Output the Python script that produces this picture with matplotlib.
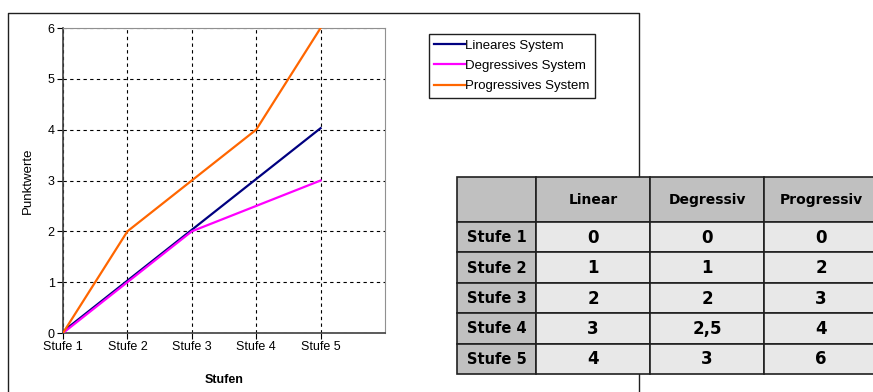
import numpy as np
import matplotlib.pyplot as plt
import matplotlib.transforms as mtransforms
from matplotlib.patches import Rectangle
from matplotlib.lines import Line2D

plt.rcParams['font.family'] = ['Liberation Sans', 'DejaVu Sans']

# ----- Data ----- #
stufen = ['Stufe 1', 'Stufe 2', 'Stufe 3', 'Stufe 4', 'Stufe 5']
linear = [0, 1, 2, 3, 4]
degressiv = [0, 1, 2, 2.5, 3]
progressiv = [0, 2, 3, 4, 6]
series_names = ['Lineares System', 'Degressives System', 'Progressives System']
table_cols = ['Linear', 'Degressiv', 'Progressiv']
colors = ['#000080', '#ff00ff', '#ff6600']

W, H = 873, 392
fig = plt.figure(figsize=(W / 100, H / 100), dpi=100)


def px_box(x0, y0, x1, y1):  # pixel box (top-left origin) -> figure rect
    return [x0 / W, 1 - y1 / H, (x1 - x0) / W, (y1 - y0) / H]


# ----- Outer chart frame ----- #
fig.add_artist(Line2D([8 / W, 8 / W, 639 / W, 639 / W], [-0.05, 1 - 13 / H, 1 - 13 / H, -0.05],
                      transform=fig.transFigure, color='#202020', lw=1))

# ----- Line chart ----- #
ax = fig.add_axes(px_box(63, 28, 385, 333))
x = np.arange(len(stufen))
# nudge the linear line up a touch so it stays visible next to the degressive one
shifts = [1.5, 0, 0]
for vals, name, col, dy in zip([linear, degressiv, progressiv], series_names, colors, shifts):
    tr = ax.transData + mtransforms.ScaledTranslation(0, dy / 100, fig.dpi_scale_trans)
    ax.plot(x, vals, color=col, lw=1.6, label=name, solid_joinstyle='miter', zorder=3,
            transform=tr)

ax.set_xlim(0, 5)
ax.set_ylim(0, 6)
ax.set_xticks(x, stufen)
ax.set_yticks(range(7))
ax.grid(True, color='black', linestyle=(0, (3, 3)), lw=0.8)
ax.tick_params(axis='both', labelsize=9, direction='out', length=4, width=0.8, pad=2, colors='black')
for side in ['top', 'right']:
    ax.spines[side].set_color('#909090')
    ax.spines[side].set_linewidth(0.8)
for side in ['left', 'bottom']:
    ax.spines[side].set_color('#404040')
    ax.spines[side].set_linewidth(1.2)

ax.set_xlabel('Stufen', fontsize=9, fontweight='bold')
ax.xaxis.set_label_coords(0.5, -0.135)
ax.set_ylabel('Punktwerte', fontsize=9.5)
ax.yaxis.set_label_coords(-0.09, 0.5)

leg = fig.legend(loc='upper left', bbox_to_anchor=(429 / W, 1 - 34 / H), fontsize=9.5,
                 frameon=True, fancybox=False, edgecolor='#202020', framealpha=1,
                 handlelength=2.3, handletextpad=0.05, labelspacing=0.62,
                 borderpad=0.4, borderaxespad=0)
leg.get_frame().set_linewidth(1)

# ----- Value table ----- #
col_w = [79, 114, 114, 114]
row_h = [45] + [30.4] * len(stufen)
tab = fig.add_axes(px_box(457, 177, 457 + sum(col_w), 177 + sum(row_h)))
tab.set_zorder(5)
tab.set_xlim(0, sum(col_w))
tab.set_ylim(sum(row_h), 0)
tab.axis('off')

columns = [linear, degressiv, progressiv]
y0 = 0
for r in range(len(row_h)):
    x0 = 0
    for c in range(len(col_w)):
        header = r == 0 or c == 0
        face = '#c0c0c0' if header else '#e8e8e8'
        tab.add_patch(Rectangle((x0, y0), col_w[c], row_h[r], facecolor=face,
                                edgecolor='#202020', lw=1.2, clip_on=False))
        if r == 0 and c > 0:
            txt, size = table_cols[c - 1], 10
        elif r > 0 and c == 0:
            txt, size = stufen[r - 1], 10.5
        elif r > 0:
            txt, size = f'{columns[c - 1][r - 1]:g}'.replace('.', ','), 12
        else:
            txt = ''
        if txt:
            tab.text(x0 + col_w[c] / 2, y0 + row_h[r] / 2 + 0.5, txt, ha='center', va='center',
                     fontsize=size, fontweight='bold', family='DejaVu Sans', color='black')
        x0 += col_w[c]
    y0 += row_h[r]

fig.savefig('out.png', dpi=100)
